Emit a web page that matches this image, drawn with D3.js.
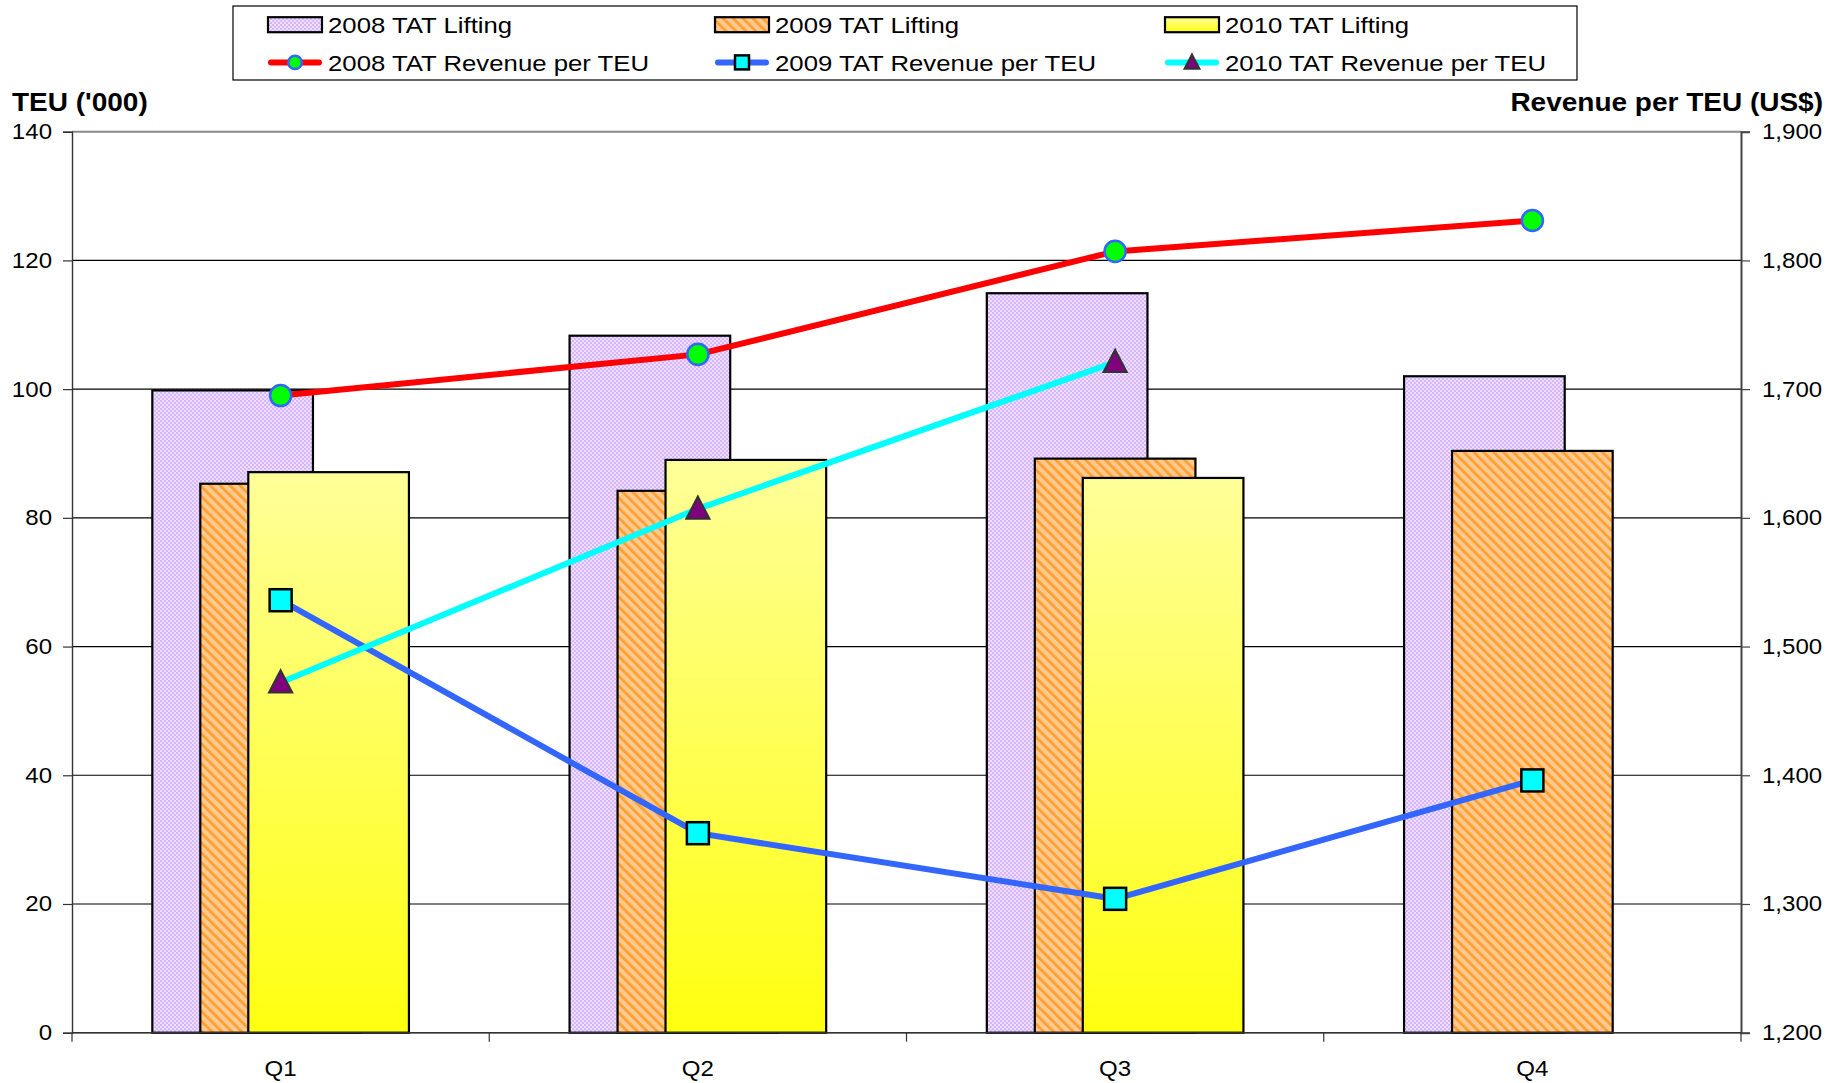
<!DOCTYPE html>
<html>
<head>
<meta charset="utf-8">
<script src="https://cdn.jsdelivr.net/npm/d3@7"></script>
<style>
  body { margin: 0; background: #fff; }
  text { font-family: "Liberation Sans", Arial, sans-serif; fill: #000; }
</style>
</head>
<body>
<div id="chart"></div>
<script>
// data
const categories = ['Q1', 'Q2', 'Q3', 'Q4'];
const lifting2008 = [99.8, 108.3, 114.9, 102.0];
const lifting2009 = [85.3, 84.2, 89.2, 90.4];
const lifting2010 = [87.1, 89.0, 86.2, null];
const revenue2008 = [1695, 1727, 1807, 1831];
const revenue2009 = [1536, 1355, 1304, 1396];
const revenue2010 = [1472, 1607, 1721, null];
const leftTicks = [0, 20, 40, 60, 80, 100, 120, 140];
const rightTicks = [1200, 1300, 1400, 1500, 1600, 1700, 1800, 1900];
const barLabels = ['2008 TAT Lifting', '2009 TAT Lifting', '2010 TAT Lifting'];
const lineLabels = ['2008 TAT Revenue per TEU', '2009 TAT Revenue per TEU', '2010 TAT Revenue per TEU'];

const width = 1845;
const height = 1083;
const plot = { left: 72, right: 1741, top: 131.7, bottom: 1032.7 };
const SX = 1.12; // the source text is a bit wider than Arial

const svg = d3.select('#chart')
    .append('svg')
    .attr('width', width)
    .attr('height', height);

const defs = svg.append('defs');

// lavender dotted fill
const dots = defs.append('pattern')
    .attr('id', 'dots')
    .attr('patternUnits', 'userSpaceOnUse')
    .attr('width', 4)
    .attr('height', 4);
dots.append('rect').attr('width', 4).attr('height', 4).attr('fill', '#eedfff');
dots.append('rect').attr('width', 2).attr('height', 2).attr('fill', '#d6b6ff');
dots.append('rect').attr('x', 2).attr('y', 2).attr('width', 2).attr('height', 2).attr('fill', '#d6b6ff');

// orange diagonal hatch
const hatch = defs.append('pattern')
    .attr('id', 'hatch')
    .attr('patternUnits', 'userSpaceOnUse')
    .attr('width', 7)
    .attr('height', 7)
    .attr('patternTransform', 'rotate(-45)');
hatch.append('rect').attr('width', 7).attr('height', 7).attr('fill', '#ffc98f');
hatch.append('rect').attr('width', 2.8).attr('height', 7).attr('fill', '#ffa030');

// yellow gradient
const grad = defs.append('linearGradient')
    .attr('id', 'yellow')
    .attr('x1', 0).attr('y1', 0).attr('x2', 0).attr('y2', 1);
grad.append('stop').attr('offset', '0%').attr('stop-color', '#ffff99');
grad.append('stop').attr('offset', '100%').attr('stop-color', '#ffff10');

const fills = ['url(#dots)', 'url(#hatch)', 'url(#yellow)'];

function stretch(sel) {
    sel.each(function () {
        const t = d3.select(this);
        const x = +t.attr('x') || 0;
        const y = +t.attr('y') || 0;
        t.attr('transform', `translate(${x},${y}) scale(${SX},1) translate(${-x},${-y})`);
    });
}

const x = d3.scaleBand()
    .domain(categories)
    .range([plot.left, plot.right])
    .padding(0);

const yL = d3.scaleLinear().domain([0, 140]).range([plot.bottom, plot.top]);
const yR = d3.scaleLinear().domain([1200, 1900]).range([plot.bottom, plot.top]);

// gridlines
svg.append('g')
    .selectAll('line')
    .data(leftTicks)
    .enter().append('line')
    .attr('x1', plot.left)
    .attr('x2', plot.right)
    .attr('y1', d => yL(d))
    .attr('y2', d => yL(d))
    .attr('stroke', d => d === 140 ? '#8a8a8a' : '#000')
    .attr('stroke-width', d => d === 140 ? 2 : 1.2);

// bars
const bw = x.bandwidth() * 0.385;
const step = x.bandwidth() * 0.115;
const barSeries = [lifting2008, lifting2009, lifting2010];

barSeries.forEach((vals, s) => {
    svg.append('g')
        .selectAll('rect')
        .data(vals.map((v, i) => ({ cat: categories[i], v })).filter(d => d.v != null))
        .enter().append('rect')
        .attr('x', d => x(d.cat) + x.bandwidth() / 2 - bw / 2 + (s - 1) * step)
        .attr('y', d => yL(d.v))
        .attr('width', bw)
        .attr('height', d => yL(0) - yL(d.v))
        .attr('fill', fills[s])
        .attr('stroke', '#000')
        .attr('stroke-width', 2.2);
});

// axes
const leftAxis = svg.append('g')
    .attr('transform', `translate(${plot.left},0)`)
    .call(d3.axisLeft(yL).tickValues(leftTicks).tickSize(9).tickPadding(11).tickFormat(d3.format('d')));
leftAxis.select('.domain').attr('stroke', '#333').attr('stroke-width', 1.4);
leftAxis.selectAll('.tick line').attr('stroke', '#333').attr('stroke-width', 1.2);
leftAxis.selectAll('text').attr('font-size', 21.5).attr('font-family', '"Liberation Sans", Arial, sans-serif').attr('fill', '#000');
stretch(leftAxis.selectAll('text'));

const rightAxis = svg.append('g')
    .attr('transform', `translate(${plot.right},0)`)
    .call(d3.axisRight(yR).tickValues(rightTicks).tickSize(9).tickPadding(12).tickFormat(d3.format(',')));
rightAxis.select('.domain').attr('stroke', '#444').attr('stroke-width', 2);
rightAxis.selectAll('.tick line').attr('stroke', '#444').attr('stroke-width', 1.2);
rightAxis.selectAll('text').attr('font-size', 21.5).attr('font-family', '"Liberation Sans", Arial, sans-serif').attr('fill', '#000');
stretch(rightAxis.selectAll('text'));

// category axis: line, boundary ticks, labels
const bottom = svg.append('g');
bottom.append('line')
    .attr('x1', plot.left).attr('x2', plot.right)
    .attr('y1', plot.bottom).attr('y2', plot.bottom)
    .attr('stroke', '#333').attr('stroke-width', 1.4);
bottom.selectAll('.cattick')
    .data(categories.concat(['end']))
    .enter().append('line')
    .attr('x1', (d, i) => plot.left + i * x.bandwidth())
    .attr('x2', (d, i) => plot.left + i * x.bandwidth())
    .attr('y1', plot.bottom)
    .attr('y2', plot.bottom + 9)
    .attr('stroke', '#333').attr('stroke-width', 1.2);
bottom.selectAll('text')
    .data(categories)
    .enter().append('text')
    .attr('x', d => x(d) + x.bandwidth() / 2)
    .attr('y', 1076)
    .attr('text-anchor', 'middle')
    .attr('font-size', 21.5)
    .text(d => d);
stretch(bottom.selectAll('text'));

// axis titles
svg.append('text')
    .attr('x', 12).attr('y', 111)
    .attr('font-size', 25).attr('font-weight', 'bold')
    .text("TEU ('000)")
    .call(stretch);
svg.append('text')
    .attr('x', 1823).attr('y', 111)
    .attr('text-anchor', 'end')
    .attr('font-size', 25).attr('font-weight', 'bold')
    .text('Revenue per TEU (US$)')
    .call(stretch);

// revenue lines
const cx = d => x(d) + x.bandwidth() / 2;
const lineStyles = [
    { vals: revenue2008, color: '#ff0000', marker: 'circle', fill: '#00ff00', stroke: '#3366ff' },
    { vals: revenue2009, color: '#3366ff', marker: 'square', fill: '#00ffff', stroke: '#000' },
    { vals: revenue2010, color: '#00ffff', marker: 'triangle', fill: '#800080', stroke: '#333' }
];

function drawMarker(g, type, fill, stroke, size) {
    if (type === 'circle') {
        g.append('circle').attr('r', size * 0.48).attr('fill', fill).attr('stroke', stroke).attr('stroke-width', 2.5);
    } else if (type === 'square') {
        g.append('rect').attr('x', -size / 2).attr('y', -size / 2).attr('width', size).attr('height', size)
            .attr('fill', fill).attr('stroke', stroke).attr('stroke-width', 2.5);
    } else {
        g.append('path')
            .attr('d', `M0,${-size * 0.55}L${size * 0.52},${size * 0.45}L${-size * 0.52},${size * 0.45}Z`)
            .attr('fill', fill).attr('stroke', stroke).attr('stroke-width', 2.2);
    }
}

lineStyles.forEach(ls => {
    const pts = ls.vals.map((v, i) => ({ cat: categories[i], v })).filter(d => d.v != null);
    const line = d3.line().x(d => cx(d.cat)).y(d => yR(d.v));
    svg.append('path')
        .datum(pts)
        .attr('d', line)
        .attr('fill', 'none')
        .attr('stroke', ls.color)
        .attr('stroke-width', 6);
    svg.append('g')
        .selectAll('g')
        .data(pts)
        .enter().append('g')
        .attr('transform', d => `translate(${cx(d.cat)},${yR(d.v)})`)
        .each(function () { drawMarker(d3.select(this), ls.marker, ls.fill, ls.stroke, 22); });
});

// legend
const legend = svg.append('g');
legend.append('rect')
    .attr('x', 233).attr('y', 6)
    .attr('width', 1344).attr('height', 74)
    .attr('fill', '#fff').attr('stroke', '#000').attr('stroke-width', 1.2);

const colX = [268, 715, 1165];
const rowY = [24.7, 62.4];

barLabels.forEach((lab, i) => {
    legend.append('rect')
        .attr('x', colX[i]).attr('y', rowY[0] - 7.5)
        .attr('width', 54).attr('height', 15)
        .attr('fill', fills[i]).attr('stroke', '#000').attr('stroke-width', 2.2);
    legend.append('text')
        .attr('x', colX[i] + 60).attr('y', rowY[0] + 8.2)
        .attr('font-size', 23)
        .text(lab)
        .call(stretch);
});

lineLabels.forEach((lab, i) => {
    const ls = lineStyles[i];
    legend.append('line')
        .attr('x1', colX[i] + 3).attr('x2', colX[i] + 51)
        .attr('y1', rowY[1]).attr('y2', rowY[1])
        .attr('stroke', ls.color).attr('stroke-width', 6).attr('stroke-linecap', 'round');
    const g = legend.append('g').attr('transform', `translate(${colX[i] + 27},${rowY[1]})`);
    drawMarker(g, ls.marker, ls.fill, ls.stroke, 14);
    legend.append('text')
        .attr('x', colX[i] + 60).attr('y', rowY[1] + 8.2)
        .attr('font-size', 23)
        .text(lab)
        .call(stretch);
});
</script>
</body>
</html>
